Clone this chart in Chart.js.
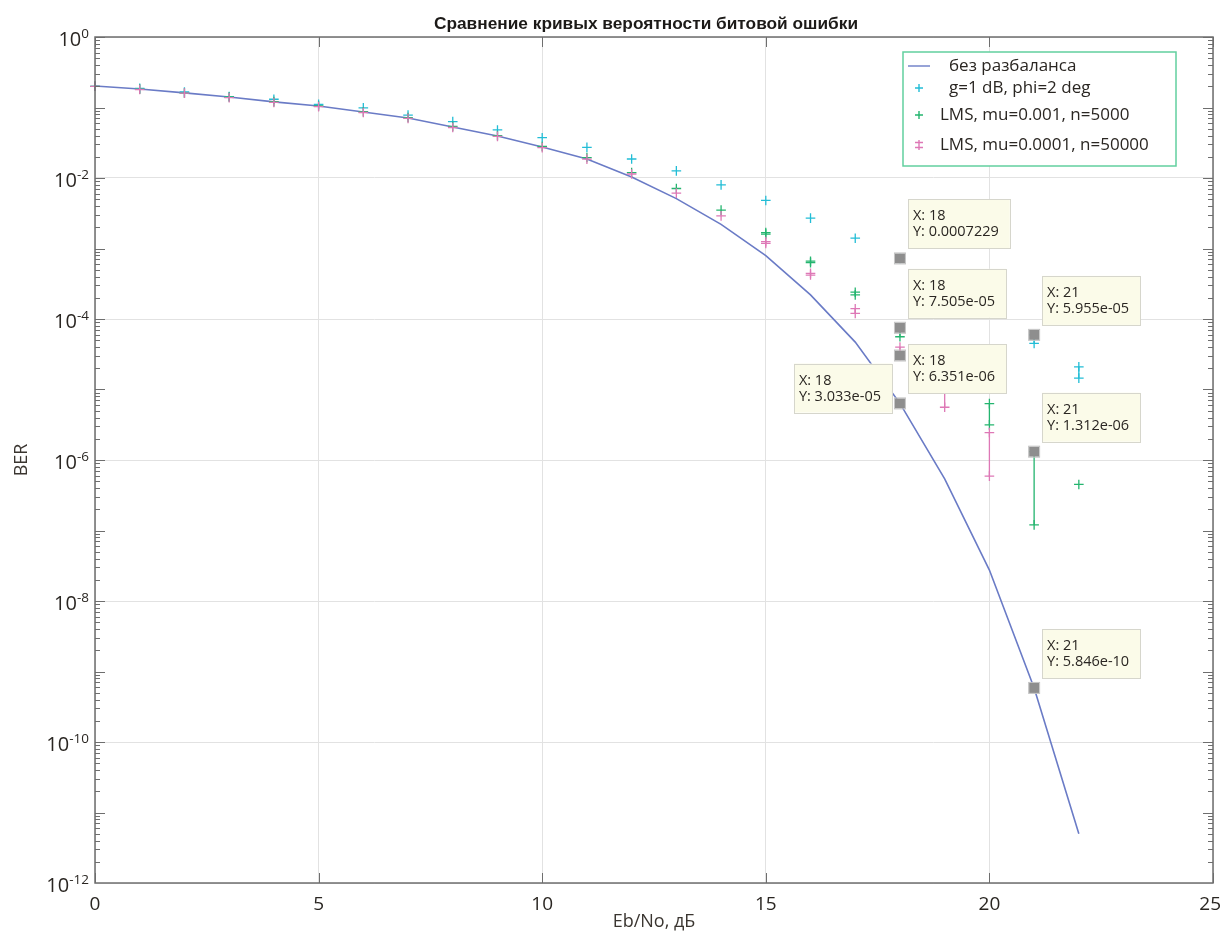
<!DOCTYPE html>
<html>
<head>
<meta charset="utf-8">
<title>BER</title>
<script src="https://cdn.jsdelivr.net/npm/chart.js@4/dist/chart.umd.min.js"></script>
<style>
    body { margin: 0; background: #fff; }
    #berChart { display: block; }
</style>
</head>
<body>
<canvas id="berChart" width="1221" height="933"></canvas>
<script>
// Eb/No, dB
const ebno = [0, 1, 2, 3, 4, 5, 6, 7, 8, 9, 10, 11, 12, 13, 14, 15, 16, 17, 18, 19, 20, 21, 22];

// theory, no imbalance
const berIdeal = [0.202, 0.183, 0.161, 0.141, 0.120, 0.105, 0.0863, 0.0710, 0.0529, 0.0394, 0.0275, 0.0186,
    0.0103, 0.0051, 0.0022, 7.9e-4, 2.2e-4, 4.7e-5, 6.351e-6, 5.4e-7, 2.75e-8, 5.846e-10, 5.0e-12];

// g=1 dB, phi=2 deg (upper / lower run)
const cyanHi = [0.2, 0.187, 0.166, 0.143, 0.131, 0.111, 0.099, 0.078, 0.063, 0.048, 0.0373, 0.0272,
    0.0186, 0.0126, 0.0080, 0.0048, 0.0027, 0.0014, 7.229e-4, 3.4e-4, 1.5e-4, 5.955e-5, 2.1e-5];
const cyanLo = [null, null, null, null, null, null, null, null, null, null, null, null,
    null, null, null, null, null, null, null, null, null, 4.5e-5, 1.45e-5];

// LMS, mu=0.001, n=5000
const greenHi = [0.2, 0.182, 0.16, 0.141, 0.121, 0.105, 0.087, 0.072, 0.054, 0.040, 0.028, 0.0195,
    0.0119, 0.0071, 0.0035, 0.00168, 6.6e-4, 2.4e-4, 7.505e-5, 1.8e-5, 6.3e-6, 1.312e-6, 4.5e-7];
const greenLo = [null, null, null, null, null, null, null, null, null, null, null, null,
    null, null, null, 1.6e-3, 6.3e-4, 2.2e-4, 5.6e-5, null, 3.15e-6, 1.2e-7, null];

// LMS, mu=0.0001, n=50000
const pinkHi = [0.2, 0.18, 0.16, 0.138, 0.118, 0.103, 0.085, 0.070, 0.052, 0.039, 0.027, 0.0185,
    0.0114, 0.0061, 0.0029, 0.00125, 4.45e-4, 1.4e-4, 4.0e-5, 1.1e-5, 2.45e-6, null, null];
const pinkLo = [null, null, null, null, null, null, null, null, null, null, null, null,
    null, null, null, 1.18e-3, 4.2e-4, 1.2e-4, 3.033e-5, 5.6e-6, 5.9e-7, null, null];

const seriesNames = ['без разбаланса', 'g=1 dB, phi=2 deg', 'LMS, mu=0.001, n=5000', 'LMS, mu=0.0001, n=50000'];

const xTicks = [0, 5, 10, 15, 20, 25];
const yExponents = [0, -2, -4, -6, -8, -10, -12];

// data tips
const tipX = [18, 18, 18, 18, 21, 21, 21];
const tipY = [0.0007229, 7.505e-05, 3.033e-05, 6.351e-06, 5.955e-05, 1.312e-06, 5.846e-10];
const tipOnLeft = [false, false, true, false, false, false, false];

const FONT = "'Open Sans', 'Noto Sans', sans-serif";
const TEXT = '#2a2622';
const FRAME = '#6e6e6e';

function buildPoints(hi, lo) {
    const pts = [];
    ebno.forEach((x, i) => {
        if (hi[i] != null) pts.push({x: x, y: hi[i]});
        if (lo[i] != null) pts.push({x: x, y: lo[i]});
        pts.push({x: x, y: null});
    });
    return pts;
}

function crossSet(label, color, hi, lo, order) {
    return {
        label: label,
        data: buildPoints(hi, lo),
        showLine: true,
        borderColor: color,
        backgroundColor: color,
        borderWidth: 1.3,
        pointStyle: 'cross',
        pointRadius: 4.8,
        pointBorderWidth: 1.3,
        pointBorderColor: color,
        clip: {left: 6, top: 6, right: 6, bottom: 0},
        order: order
    };
}

function fmtTip(v) {
    const e = Math.floor(Math.log10(v));
    if (e < -4) {
        const m = (v / Math.pow(10, e)).toFixed(3);
        return m + 'e-' + String(-e).padStart(2, '0');
    }
    return String(v);
}

const frameAndTicks = {
    id: 'frameAndTicks',
    afterDatasetsDraw(chart) {
        const ctx = chart.ctx, a = chart.chartArea;
        const xs = chart.scales.x, ys = chart.scales.y;
        ctx.save();
        ctx.strokeStyle = FRAME;
        ctx.lineWidth = 1;
        ctx.beginPath();
        // minor / major ticks of the log axis, both sides
        for (let n = 0; n > -12; n--) {
            for (let k = 1; k <= 9; k++) {
                const v = k === 1 ? Math.pow(10, n) : k * Math.pow(10, n - 1);
                const y = Math.round(ys.getPixelForValue(v)) + 0.5;
                const len = k === 1 ? 10 : 5;
                ctx.moveTo(a.left, y); ctx.lineTo(a.left + len, y);
                ctx.moveTo(a.right, y); ctx.lineTo(a.right - len, y);
            }
        }
        xTicks.forEach(t => {
            const x = Math.round(xs.getPixelForValue(t)) + 0.5;
            ctx.moveTo(x, a.bottom); ctx.lineTo(x, a.bottom - 10);
            ctx.moveTo(x, a.top); ctx.lineTo(x, a.top + 10);
        });
        ctx.stroke();
        ctx.lineWidth = 1.5;
        ctx.strokeRect(a.left, a.top, a.right - a.left, a.bottom - a.top);

        // x tick labels, last one kept inside the canvas
        ctx.fillStyle = TEXT;
        ctx.font = '19px ' + FONT;
        ctx.textBaseline = 'alphabetic';
        ctx.textAlign = 'left';
        xTicks.forEach(t => {
            const label = String(t);
            const w = ctx.measureText(label).width;
            let x = xs.getPixelForValue(t) - w / 2;
            x = Math.min(x, chart.width - w);
            ctx.fillText(label, x, a.bottom + 27);
        });

        // y tick labels 10^n
        yExponents.forEach(e => {
            const y = ys.getPixelForValue(Math.pow(10, e));
            const exp = String(e);
            ctx.font = '13.5px ' + FONT;
            const ew = ctx.measureText(exp).width;
            ctx.font = '20px ' + FONT;
            const bw = ctx.measureText('10').width;
            const right = a.left - 6;
            ctx.fillText('10', right - ew - bw, y + 9);
            ctx.font = '13.5px ' + FONT;
            ctx.fillText(exp, right - ew, y + 1);
        });

        // title
        ctx.font = 'bold 17.3px "Liberation Sans", Arial, sans-serif';
        ctx.textAlign = 'center';
        ctx.fillStyle = '#1c1a18';
        ctx.fillText('Сравнение кривых вероятности битовой ошибки', (a.left + a.right) / 2 - 8, 29);
        ctx.restore();
    }
};

const dataTips = {
    id: 'dataTips',
    afterDatasetsDraw(chart) {
        const ctx = chart.ctx;
        const xs = chart.scales.x, ys = chart.scales.y;
        ctx.save();
        ctx.font = '14.5px ' + FONT;
        ctx.textAlign = 'left';
        ctx.textBaseline = 'alphabetic';
        tipX.forEach((tx, i) => {
            const px = xs.getPixelForValue(tx);
            const py = ys.getPixelForValue(tipY[i]);
            const l1 = 'X: ' + tx;
            const l2 = 'Y: ' + fmtTip(tipY[i]);
            const w = Math.max(ctx.measureText(l1).width, ctx.measureText(l2).width) + 16;
            const h = 49;
            let bx, by;
            if (tipOnLeft[i]) { bx = px - 8 - w; by = py + 8; }
            else { bx = px + 8; by = py - 10 - h; }
            ctx.fillStyle = '#fbfbe9';
            ctx.fillRect(bx, by, w, h);
            ctx.strokeStyle = '#d6d6cc';
            ctx.lineWidth = 1;
            ctx.strokeRect(Math.round(bx) + 0.5, Math.round(by) + 0.5, Math.round(w), h);
            ctx.fillStyle = TEXT;
            ctx.fillText(l1, bx + 5, by + 21);
            ctx.fillText(l2, bx + 5, by + 37);
            ctx.fillStyle = '#8e8e8e';
            ctx.fillRect(px - 5, py - 5, 10, 10);
            ctx.strokeStyle = '#c4c4c4';
            ctx.strokeRect(px - 5.5, py - 5.5, 11, 11);
        });
        ctx.restore();
    }
};

const legendBox = {
    id: 'legendBox',
    afterDraw(chart) {
        const ctx = chart.ctx, a = chart.chartArea;
        const w = 273, h = 114;
        const left = a.right - 37 - w, top = a.top + 15;
        const rowY = [14, 36, 63, 93];
        const textX = [46, 46, 37, 37];
        ctx.save();
        ctx.fillStyle = '#fff';
        ctx.fillRect(left, top, w, h);
        ctx.strokeStyle = '#62cf9f';
        ctx.lineWidth = 1.5;
        ctx.strokeRect(left, top, w, h);
        ctx.font = '17px ' + FONT;
        ctx.textBaseline = 'middle';
        ctx.textAlign = 'left';
        chart.data.datasets.forEach((ds, i) => {
            const y = top + rowY[i];
            const cx = left + 16;
            ctx.strokeStyle = ds.borderColor;
            ctx.lineWidth = 1.4;
            ctx.beginPath();
            if (i === 0) {
                ctx.moveTo(left + 5, y); ctx.lineTo(left + 27, y);
            } else if (i === 3) {
                ctx.moveTo(cx, y - 5); ctx.lineTo(cx, y + 5);
                ctx.moveTo(cx - 4, y - 2.5); ctx.lineTo(cx + 4, y - 2.5);
                ctx.moveTo(cx - 4, y + 2.5); ctx.lineTo(cx + 4, y + 2.5);
            } else {
                ctx.moveTo(cx, y - 4); ctx.lineTo(cx, y + 4);
                ctx.moveTo(cx - 4, y); ctx.lineTo(cx + 4, y);
            }
            ctx.stroke();
            ctx.fillStyle = TEXT;
            ctx.fillText(ds.label, left + textX[i], y);
        });
        ctx.restore();
    }
};

function initChart() {
    const ctx = document.getElementById('berChart').getContext('2d');
    Chart.defaults.font.family = FONT;

    new Chart(ctx, {
        type: 'scatter',
        data: {
            datasets: [{
                label: seriesNames[0],
                data: ebno.map((x, i) => ({x: x, y: berIdeal[i]})),
                showLine: true,
                borderColor: '#6a7bc6',
                backgroundColor: '#6a7bc6',
                borderWidth: 1.6,
                pointRadius: 0,
                order: 4
            },
            crossSet(seriesNames[1], '#22bdd6', cyanHi, cyanLo, 3),
            crossSet(seriesNames[2], '#24b56f', greenHi, greenLo, 2),
            crossSet(seriesNames[3], '#de78b6', pinkHi, pinkLo, 1)]
        },
        options: {
            responsive: false,
            animation: false,
            devicePixelRatio: 1,
            layout: { padding: { top: 37, right: 8, left: 0, bottom: 0 } },
            plugins: {
                legend: { display: false },
                tooltip: { enabled: false },
                title: { display: false }
            },
            scales: {
                x: {
                    type: 'linear',
                    min: 0,
                    max: 25,
                    afterBuildTicks: s => { s.ticks = xTicks.map(v => ({value: v})); },
                    afterFit: s => { s.height = 50; s.paddingLeft = 0; s.paddingRight = 0; },
                    grid: { color: '#e2e2e2', lineWidth: 1, drawTicks: false },
                    border: { display: false },
                    ticks: { display: false },
                    title: {
                        display: true,
                        text: 'Eb/No, дБ',
                        color: '#3a3530',
                        font: { size: 18 },
                        padding: { top: 0, bottom: 0 }
                    }
                },
                y: {
                    type: 'logarithmic',
                    min: 1e-12,
                    max: 1,
                    afterBuildTicks: s => { s.ticks = yExponents.map(e => ({value: Math.pow(10, e)})); },
                    afterFit: s => { s.width = 95; s.paddingTop = 0; s.paddingBottom = 0; },
                    grid: { color: '#e2e2e2', lineWidth: 1, drawTicks: false },
                    border: { display: false },
                    ticks: { display: false },
                    title: {
                        display: true,
                        text: 'BER',
                        color: '#3a3530',
                        font: { size: 18 },
                        padding: { top: 11, bottom: 0 }
                    }
                }
            }
        },
        plugins: [frameAndTicks, dataTips, legendBox]
    });
}

initChart();
</script>
</body>
</html>
